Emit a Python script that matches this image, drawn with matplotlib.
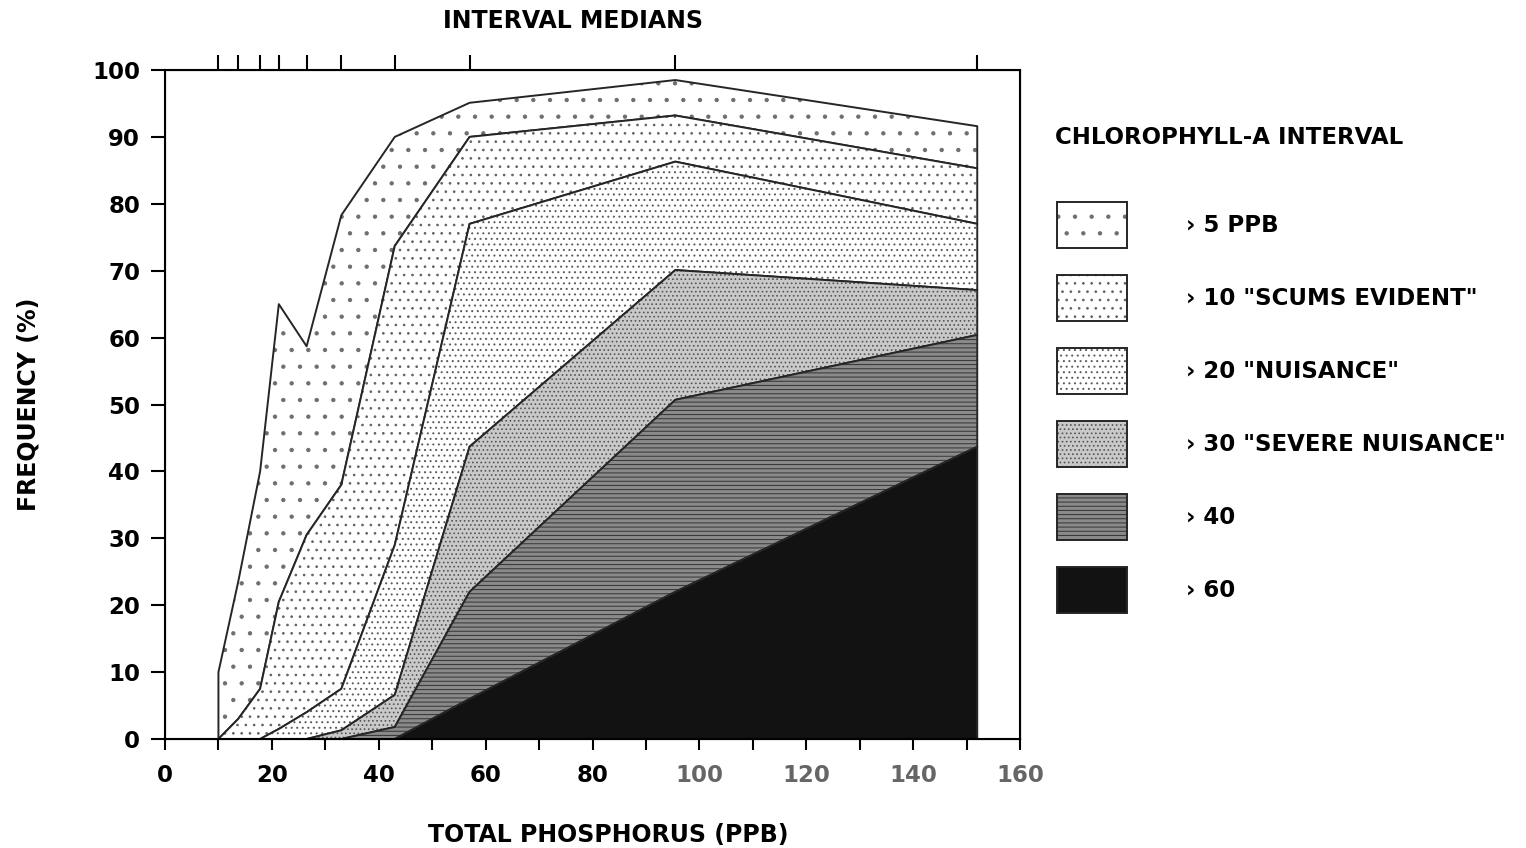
import matplotlib
matplotlib.use("Agg")
import matplotlib.pyplot as plt
from matplotlib.legend_handler import HandlerTuple

# interval medians of total phosphorus (ppb), shown as ticks on the top axis
medians = [10, 13.7, 17.8, 21.3, 26.5, 33, 43, 57, 95.5, 152]

# frequency (%) of chlorophyll-a above each level
gt5 = [10, 23.5, 40, 65, 58.7, 78.3, 90, 95.1, 98.5, 91.6]
gt10 = [0, 3, 7.5, 20.5, 30.5, 38, 73.7, 90, 93.2, 85.3]
gt20 = [0, 0, 0, 1.5, 4, 7.5, 29, 77, 86.3, 77]
gt30 = [0, 0, 0, 0, 0, 1.3, 6.6, 43.7, 70.1, 67.1]
gt40 = [0, 0, 0, 0, 0, 0, 1.8, 22, 50.7, 60.4]
gt60 = [0, 0, 0, 0, 0, 0, 0, 6, 22, 43.7]

labels = ['\u203a 5 PPB', '\u203a 10 "SCUMS EVIDENT"', '\u203a 20 "NUISANCE"',
          '\u203a 30 "SEVERE NUISANCE"', '\u203a 40', '\u203a 60']

plt.rcParams["font.family"] = "DejaVu Sans"
plt.rcParams["font.weight"] = "bold"
plt.rcParams["axes.labelweight"] = "bold"
plt.rcParams["hatch.linewidth"] = 0.7

W, H = 1526, 848
fig = plt.figure(figsize=(W / 100, H / 100), dpi=100)
ax = fig.add_axes([165 / W, 109 / H, 855 / W, 669 / H])

series = [gt5, gt10, gt20, gt30, gt40, gt60]
lower = series[1:] + [[0] * len(medians)]
faces = ["white", "white", "white", "#c9c9c9", "#8a8a8a", "#121212"]
hatches = [".", "..", "...", "....", "----", None]
hatch_colors = ["#6e6e6e", "#626262", "#5a5a5a", "#555555", "#333333", "#121212"]

handles = []
for up, lo, fc, h, hc in zip(series, lower, faces, hatches, hatch_colors):
    with plt.rc_context({"hatch.color": hc}):
        fill = ax.fill_between(medians, lo, up, facecolor=fc, hatch=h,
                               linewidth=0)
    outline = ax.fill_between(medians, lo, up, facecolor="none",
                              edgecolor="#262626", linewidth=1.4)
    handles.append((fill, outline))

ax.set_xlim(0, 160)
ax.set_ylim(0, 100)
xt = list(range(0, 161, 20))
ax.set_xticks(xt, labels=[str(v) for v in xt])
ax.set_xticks(range(10, 160, 20), minor=True)
ax.set_yticks(range(0, 101, 10))
ax.tick_params(axis="x", which="both", direction="out", length=8, width=1.5,
               labelsize=16.5, pad=10)
ax.tick_params(axis="y", direction="out", length=10, width=1.5,
               labelsize=16.5, pad=8)
for v, lab in zip(xt, ax.get_xticklabels()):
    if v >= 100:
        lab.set_color("#666666")
for s in ax.spines.values():
    s.set_linewidth(1.5)

ax.set_xlabel("TOTAL PHOSPHORUS (PPB)", fontsize=17)
ax.xaxis.set_label_coords(0.519, -0.126)
ax.set_ylabel("FREQUENCY (%)", fontsize=17)
ax.yaxis.set_label_coords(-0.146, 0.5)

# interval medians on the top axis
top = ax.twiny()
top.set_xlim(ax.get_xlim())
top.set_xticks(medians)
top.tick_params(axis="x", direction="out", length=11, width=1.5, labeltop=False)
top.set_xlabel("INTERVAL MEDIANS", fontsize=17)
top.xaxis.set_label_coords(0.477, 1.063)

fig.text(1055 / W, 1 - 138 / H, "CHLOROPHYLL-A INTERVAL", fontsize=16.5,
         ha="left", va="center")
fig.legend(handles=handles, labels=labels, loc="upper left",
           handler_map={tuple: HandlerTuple(ndivide=1, pad=0)},
           bbox_to_anchor=(1057 / W, 1 - 202 / H), frameon=False,
           fontsize=16.5, handlelength=3.05, handleheight=2.71,
           labelspacing=1.18, handletextpad=2.6, borderpad=0, borderaxespad=0)

fig.savefig("out.png", dpi=100, facecolor="white")
